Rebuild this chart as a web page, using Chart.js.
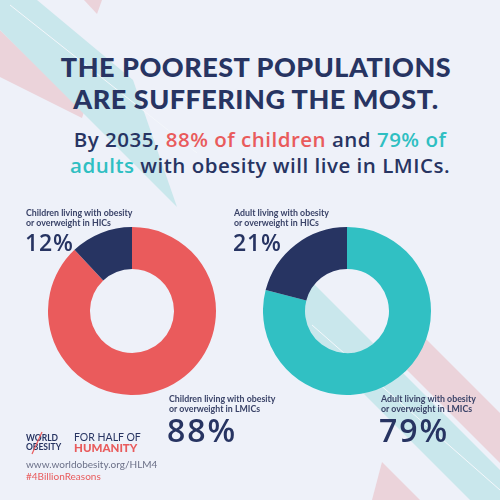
<!DOCTYPE html>
<html>
<head>
<meta charset="utf-8">
<script src="https://cdn.jsdelivr.net/npm/chart.js"></script>
<style>
  html, body { margin: 0; padding: 0; }
  body { width: 500px; height: 500px; overflow: hidden; background: #eef1f9; font-family: "Lato", "Open Sans", sans-serif; color: #273462; }
  #stage { position: relative; width: 500px; height: 500px; }
  #bg { position: absolute; left: 0; top: 0; }
  .abs { position: absolute; white-space: nowrap; }
  .title { left: 0; width: 512px; text-align: center; font-weight: 900; font-size: 27px; letter-spacing: 0.5px; line-height: 1; }
  .sub { left: 0; width: 520px; text-align: center; font-family: "Open Sans", sans-serif; font-weight: 600; font-size: 20.5px; letter-spacing: 0.5px; line-height: 1; }
  .coral { color: #e95b5c; }
  .teal { color: #2fbfc2; }
  .small { font-size: 8.8px; font-weight: 700; line-height: 10px; color: #3a4368; }
  .pct { font-family: "Open Sans", sans-serif; font-weight: 600; font-size: 23px; letter-spacing: 0.8px; line-height: 1; }
  .big { font-family: "Open Sans", sans-serif; font-weight: 600; font-size: 32px; letter-spacing: 2px; line-height: 1; }
  canvas.donut { position: absolute; }
</style>
</head>
<body>
<div id="stage">
  <svg id="bg" width="500" height="500">
    <!-- decorative stripes -->
    <polygon points="0,30 84,112 82,118 0,77" fill="#ebd3da"/>
    <polygon points="0,0 37,0 133,80 177,207 0,30" fill="#c9e7ec"/>
    <line x1="10" y1="5" x2="197" y2="153" stroke="#f4f7fb" stroke-width="1"/>
    <polygon points="84,0 102,0 97,14" fill="#ebd3da"/>
    <polygon points="410,323 500,413 500,463 380,343" fill="#ebd3da"/>
    <polygon points="300,270 500,470 500,530 270,300" fill="#c9e7ec"/>
    <line x1="312" y1="325" x2="500" y2="490" stroke="#f4f7fb" stroke-width="1"/>
    <polygon points="382,462 372,500 420,500" fill="#ebd3da"/>
  </svg>

  <div class="abs title" style="top:53px;">THE POOREST POPULATIONS</div>
  <div class="abs title" style="top:85px;">ARE SUFFERING THE MOST.</div>
  <div class="abs sub" style="top:129px;">By 2035, <span class="coral">88% of children</span> and <span class="teal">79% of</span></div>
  <div class="abs sub" style="top:155px;"><span class="teal">adults</span> with obesity will live in LMICs.</div>

  <canvas id="childChart" class="donut" width="168" height="168" style="left:48px; top:227px;"></canvas>
  <canvas id="adultChart" class="donut" width="168" height="168" style="left:263px; top:227px;"></canvas>

  <div class="abs small" id="childHicLabel" style="left:26px; top:208px;"></div>
  <div class="abs pct" id="childHicPct" style="left:25px; top:231px;"></div>
  <div class="abs small" id="adultHicLabel" style="left:234px; top:208px;"></div>
  <div class="abs pct" id="adultHicPct" style="left:233px; top:231px;"></div>
  <div class="abs small" id="childLmicLabel" style="left:169px; top:394px;"></div>
  <div class="abs big" id="childLmicPct" style="left:167px; top:414px;"></div>
  <div class="abs small" id="adultLmicLabel" style="left:381px; top:394px;"></div>
  <div class="abs big" id="adultLmicPct" style="left:379px; top:414px;"></div>

  <!-- logo block -->
  <div class="abs" style="left:26px; top:434px; font-size:8.5px; font-weight:700; line-height:9px; color:#273462;">WORLD<br>OBESITY</div>
  <svg class="abs" style="left:28px; top:430px;" width="20" height="26"><line x1="14" y1="2" x2="4" y2="24" stroke="#e95b5c" stroke-width="1.2"/></svg>
  <div class="abs" style="left:74px; top:432px; font-size:10.5px; font-weight:400; line-height:10px; color:#273462;">FOR HALF OF</div>
  <div class="abs" style="left:74px; top:442px; font-size:11.5px; font-weight:900; line-height:11px; color:#e95b5c;">HUMANITY</div>
  <div class="abs" style="left:26px; top:458px; font-size:10px; color:#6b7088;">www.worldobesity.org/HLM4</div>
  <div class="abs" style="left:26px; top:470px; font-size:10px; color:#e95b5c;">#4BillionReasons</div>
</div>

<script>
  // Categories
  const childCategories = ["Children living with obesity or overweight in LMICs", "Children living with obesity or overweight in HICs"];
  const adultCategories = ["Adult living with obesity or overweight in LMICs", "Adult living with obesity or overweight in HICs"];

  // Series values (percent)
  const childValues = [88, 12];
  const adultValues = [79, 21];

  // Colours
  const childColors = ["#ea5b5c", "#273462"];
  const adultColors = ["#31c0c3", "#273462"];

  function splitLabel(text) {
    // break before "or overweight"
    const idx = text.indexOf(" or ");
    return text.slice(0, idx) + "<br>" + text.slice(idx + 1);
  }

  document.getElementById("childHicLabel").innerHTML = splitLabel(childCategories[1]);
  document.getElementById("childHicPct").textContent = childValues[1] + "%";
  document.getElementById("adultHicLabel").innerHTML = splitLabel(adultCategories[1]);
  document.getElementById("adultHicPct").textContent = adultValues[1] + "%";
  document.getElementById("childLmicLabel").innerHTML = splitLabel(childCategories[0]);
  document.getElementById("childLmicPct").textContent = childValues[0] + "%";
  document.getElementById("adultLmicLabel").innerHTML = splitLabel(adultCategories[0]);
  document.getElementById("adultLmicPct").textContent = adultValues[0] + "%";

  function makeDonut(canvasId, labels, values, colors) {
    return new Chart(document.getElementById(canvasId), {
      type: "doughnut",
      data: {
        labels: labels,
        datasets: [
          {
            data: values,
            backgroundColor: colors,
            borderWidth: 0,
          },
        ],
      },
      options: {
        responsive: false,
        animation: false,
        cutout: "50%",
        layout: { padding: 0 },
        plugins: {
          legend: { display: false },
          tooltip: { enabled: false },
        },
      },
    });
  }

  makeDonut("childChart", childCategories, childValues, childColors);
  makeDonut("adultChart", adultCategories, adultValues, adultColors);
</script>
</body>
</html>
